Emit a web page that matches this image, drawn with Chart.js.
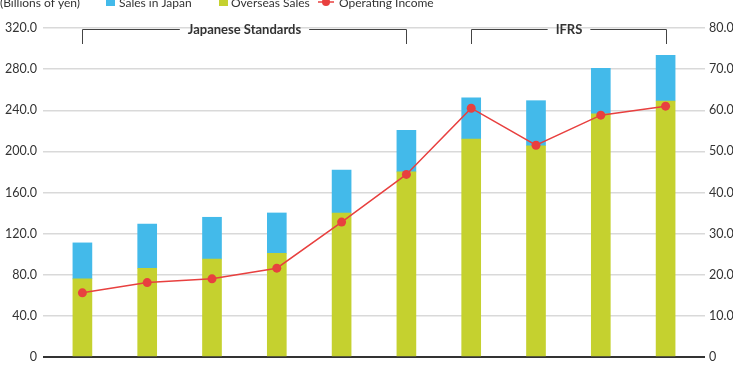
<!DOCTYPE html>
<html>
<head>
<meta charset="utf-8">
<script src="https://cdn.jsdelivr.net/npm/chart.js@4/dist/chart.umd.min.js"></script>
<style>
  html, body { margin: 0; padding: 0; background: #fff; }
  #wrap { width: 733px; height: 373px; position: relative; }
</style>
</head>
<body>
<div id="wrap"><canvas id="chart"></canvas></div>
<script>
// ---------------------------------------------------------------------------
// Data
// ---------------------------------------------------------------------------
const periods = ['FY1', 'FY2', 'FY3', 'FY4', 'FY5', 'FY6', 'FY7', 'FY8', 'FY9', 'FY10'];
const overseasSales = [76.0, 86.3, 95.3, 100.9, 140.1, 180.0, 212.0, 205.5, 236.4, 249.0];
const japanSales = [35.0, 43.1, 40.6, 39.2, 41.8, 40.5, 40.0, 43.8, 44.4, 44.5];
const operatingIncome = [15.6, 18.1, 19.0, 21.6, 32.8, 44.4, 60.5, 51.5, 58.8, 61.0];

const leftTicks = [0, 40, 80, 120, 160, 200, 240, 280, 320];
const rightTicks = [0, 10, 20, 30, 40, 50, 60, 70, 80];

const bracketLabels = ['Japanese Standards', 'IFRS'];
const bracketStart = [0, 6];
const bracketEnd = [5, 9];

const COLORS = {
  japan: '#43baea',
  overseas: '#c5d12f',
  income: '#e8403f',
  grid: '#d9d9d9',
  axis: '#333333',
  text: '#333333'
};

const FONT = "Lato, 'Open Sans', sans-serif";

// ---------------------------------------------------------------------------
// Plugins: custom legend at top and accounting-standard brackets
// ---------------------------------------------------------------------------
const topLegendPlugin = {
  id: 'topLegend',
  afterDraw(chart) {
    const { ctx } = chart;
    const y = 7;
    ctx.save();
    ctx.font = '12px ' + FONT;
    ctx.fillStyle = COLORS.text;
    ctx.textBaseline = 'alphabetic';
    ctx.textAlign = 'left';
    ctx.fillText('(Billions of yen)', 0, y);

    // Sales in Japan
    ctx.fillStyle = COLORS.japan;
    ctx.fillRect(106, -2, 9, 8);
    ctx.fillStyle = COLORS.text;
    ctx.fillText('Sales in Japan', 119, y);

    // Overseas Sales
    ctx.fillStyle = COLORS.overseas;
    ctx.fillRect(219, -2, 9, 8);
    ctx.fillStyle = COLORS.text;
    ctx.fillText('Overseas Sales', 231, y);

    // Operating Income
    ctx.strokeStyle = COLORS.income;
    ctx.lineWidth = 1.5;
    ctx.beginPath();
    ctx.moveTo(318, 2);
    ctx.lineTo(334, 2);
    ctx.stroke();
    ctx.fillStyle = COLORS.income;
    ctx.beginPath();
    ctx.arc(326, 2, 4, 0, Math.PI * 2);
    ctx.fill();
    ctx.fillStyle = COLORS.text;
    ctx.fillText('Operating Income', 339, y);
    ctx.restore();
  }
};

const bracketPlugin = {
  id: 'brackets',
  afterDraw(chart) {
    const { ctx } = chart;
    const xScale = chart.scales.x;
    const lineY = 29.5;
    const tickBottom = 44;
    ctx.save();
    ctx.font = 'bold 13px ' + FONT;
    ctx.textAlign = 'center';
    ctx.textBaseline = 'middle';
    ctx.strokeStyle = '#444';
    ctx.lineWidth = 1;
    bracketLabels.forEach((label, i) => {
      const x0 = Math.round(xScale.getPixelForValue(bracketStart[i])) + 0.5;
      const x1 = Math.round(xScale.getPixelForValue(bracketEnd[i])) + 0.5;
      const mid = (x0 + x1) / 2;
      const half = ctx.measureText(label).width / 2 + 8;
      ctx.beginPath();
      ctx.moveTo(x0, tickBottom);
      ctx.lineTo(x0, lineY);
      ctx.lineTo(mid - half, lineY);
      ctx.moveTo(mid + half, lineY);
      ctx.lineTo(x1, lineY);
      ctx.lineTo(x1, tickBottom);
      ctx.stroke();
      ctx.fillStyle = COLORS.text;
      ctx.fillText(label, mid, lineY);
    });
    ctx.restore();
  }
};

// ---------------------------------------------------------------------------
// Chart
// ---------------------------------------------------------------------------
const fmt = (v) => (v === 0 ? '0' : v.toFixed(1));

new Chart(document.getElementById('chart'), {
  data: {
    labels: periods,
    datasets: [
      {
        type: 'line',
        label: 'Operating Income',
        data: operatingIncome,
        yAxisID: 'y1',
        borderColor: COLORS.income,
        backgroundColor: COLORS.income,
        borderWidth: 1.5,
        pointRadius: 4.5,
        pointBorderWidth: 0,
        pointBackgroundColor: COLORS.income,
        tension: 0,
        order: 0
      },
      {
        type: 'bar',
        label: 'Overseas Sales',
        data: overseasSales,
        yAxisID: 'y',
        backgroundColor: COLORS.overseas,
        barThickness: 19,
        stack: 'sales',
        order: 1
      },
      {
        type: 'bar',
        label: 'Sales in Japan',
        data: japanSales,
        yAxisID: 'y',
        backgroundColor: COLORS.japan,
        barThickness: 19,
        stack: 'sales',
        order: 1
      }
    ]
  },
  options: {
    responsive: true,
    maintainAspectRatio: false,
    animation: false,
    layout: { padding: { top: 28, left: 0, right: 0, bottom: 0 } },
    plugins: {
      legend: { display: false },
      tooltip: { enabled: false }
    },
    scales: {
      x: {
        stacked: true,
        grid: { display: false, drawTicks: false },
        border: { display: false },
        ticks: { display: false },
        afterFit(scale) { scale.height = 16; }
      },
      y: {
        position: 'left',
        stacked: true,
        min: 0,
        max: 320,
        afterBuildTicks(scale) { scale.ticks = leftTicks.map(v => ({ value: v })); },
        grid: {
          color: (c) => (c.tick && c.tick.value === 0 ? COLORS.axis : COLORS.grid),
          lineWidth: (c) => (c.tick && c.tick.value === 0 ? 2 : 1.5),
          drawTicks: true,
          tickLength: 7
        },
        border: { display: false },
        ticks: {
          padding: 6,
          color: COLORS.text,
          font: { family: FONT, size: 12.5 },
          callback: (v) => fmt(v)
        },
        afterFit(scale) { scale.width = 50; }
      },
      y1: {
        position: 'right',
        min: 0,
        max: 80,
        afterBuildTicks(scale) { scale.ticks = rightTicks.map(v => ({ value: v })); },
        grid: {
          drawOnChartArea: false,
          color: (c) => (c.tick && c.tick.value === 0 ? COLORS.axis : COLORS.grid),
          lineWidth: (c) => (c.tick && c.tick.value === 0 ? 2 : 1.5),
          drawTicks: true,
          tickLength: 7
        },
        border: { display: false },
        ticks: {
          padding: 4,
          color: COLORS.text,
          font: { family: FONT, size: 12.5 },
          callback: (v) => fmt(v)
        },
        afterFit(scale) { scale.width = 35; }
      }
    }
  },
  plugins: [topLegendPlugin, bracketPlugin]
});
</script>
</body>
</html>
